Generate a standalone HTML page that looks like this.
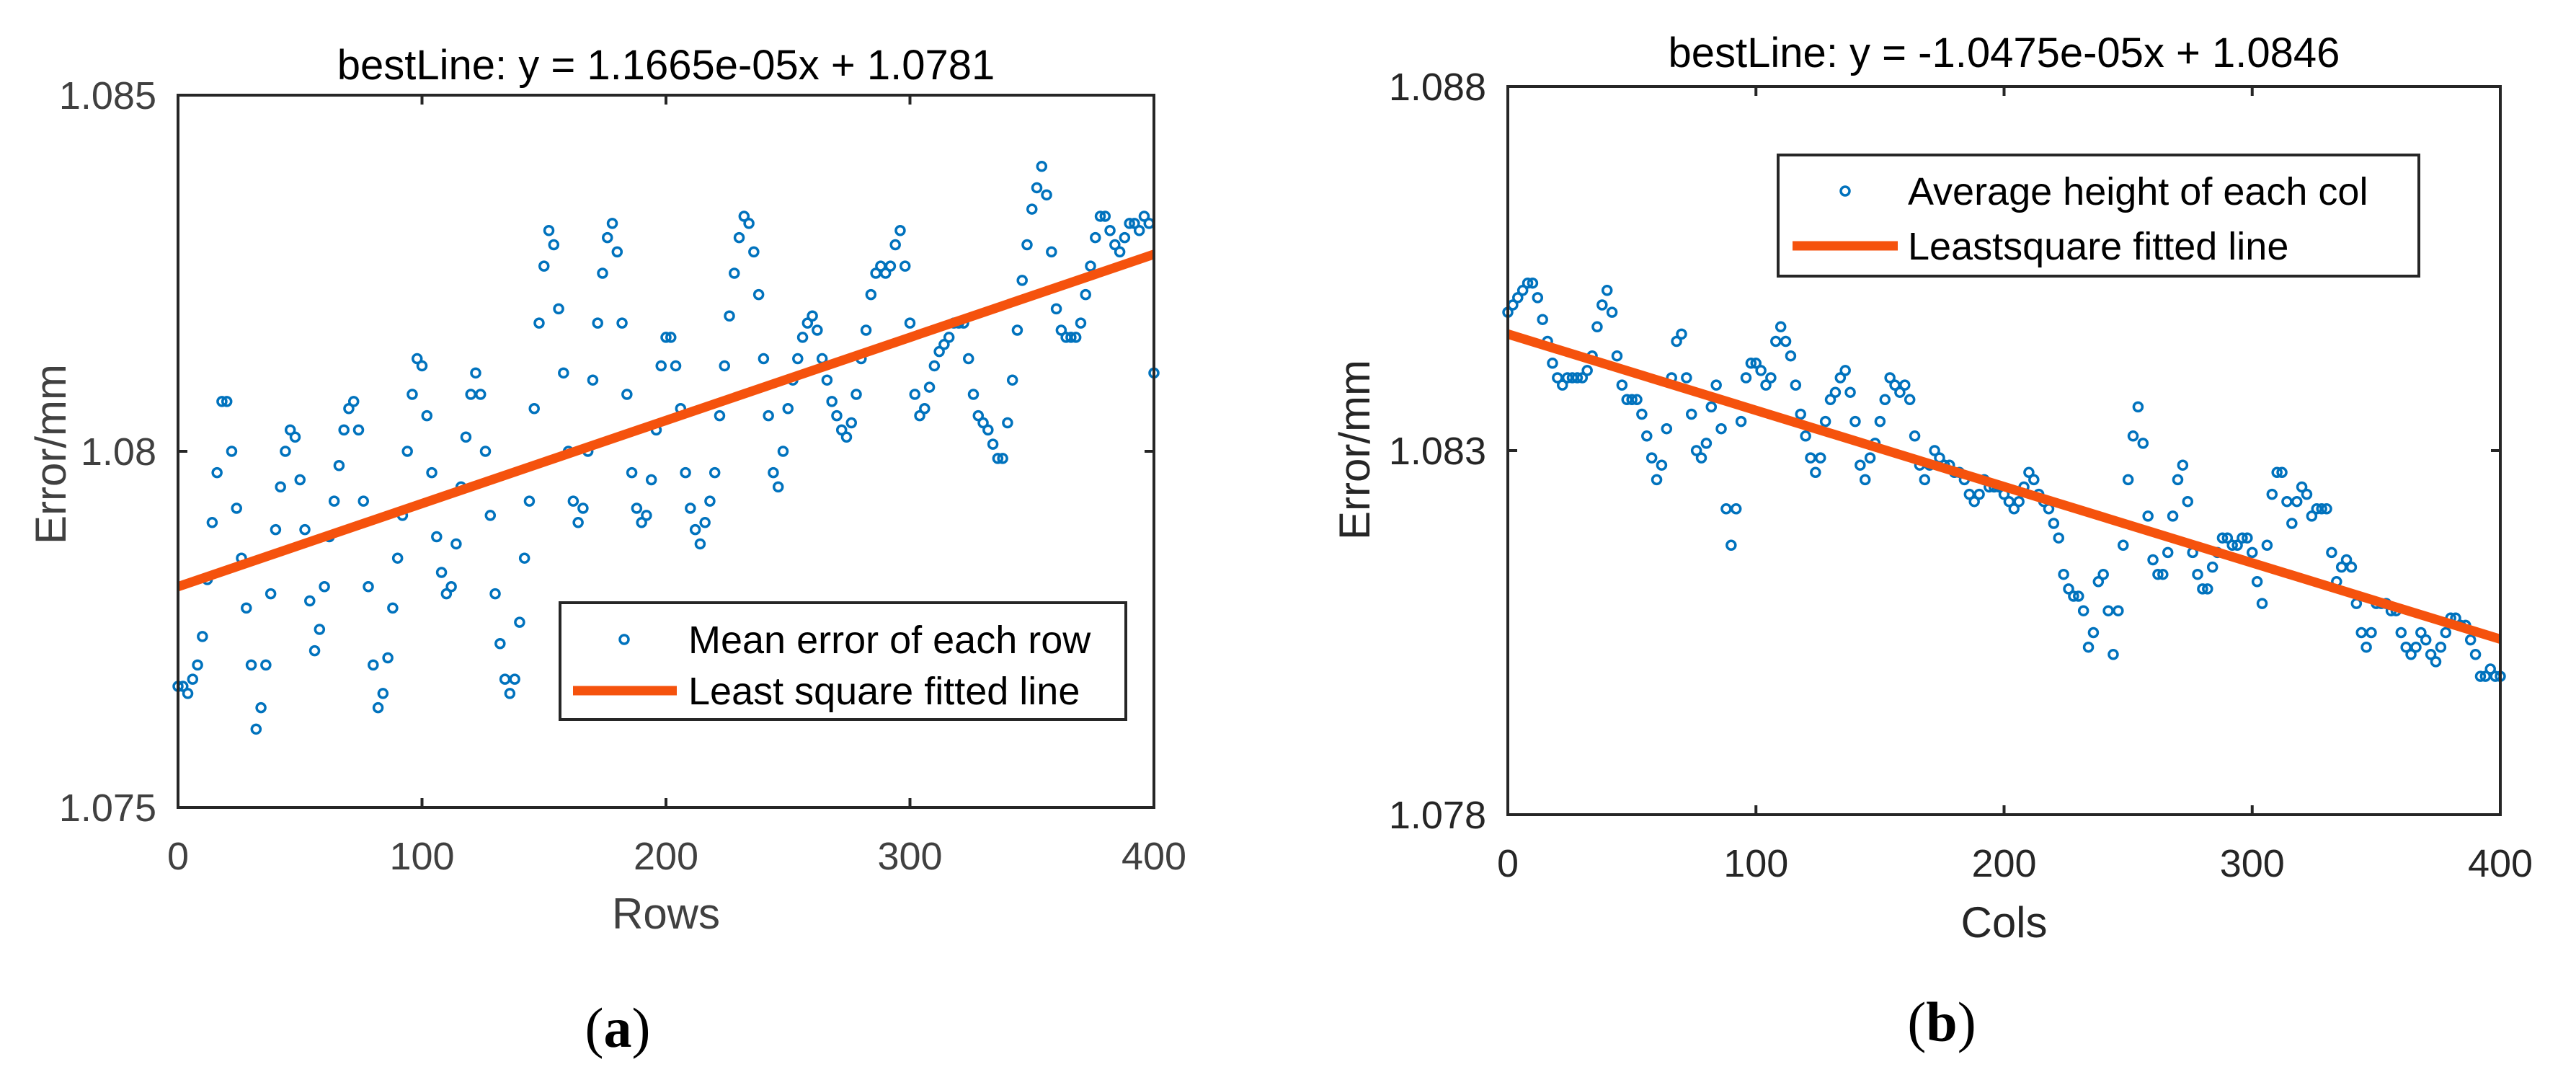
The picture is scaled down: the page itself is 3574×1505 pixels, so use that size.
<!DOCTYPE html>
<html><head><meta charset="utf-8"><style>
html,body{margin:0;padding:0;background:#fff;}
svg{display:block;}
text{font-family:"Liberation Sans",Arial,sans-serif;}
text.cap{font-family:"Liberation Serif",serif;}
</style></head><body>
<svg id="fig" width="3574" height="1505" viewBox="0 0 3574 1505" xmlns="http://www.w3.org/2000/svg">
<rect width="3574" height="1505" fill="#fff"/>
<g id="pa"></g>
<g id="pb"></g>
</svg>
<script>
const rowValues=[1.0767,1.0767,1.0766,1.0768,1.0770,1.0774,1.0782,1.0790,1.0797,1.0807,1.0807,1.0800,1.0792,1.0785,1.0778,1.0770,1.0761,1.0764,1.0770,1.0780,1.0789,1.0795,1.0800,1.0803,1.0802,1.0796,1.0789,1.0779,1.0772,1.0775,1.0781,1.0788,1.0793,1.0798,1.0803,1.0806,1.0807,1.0803,1.0793,1.0781,1.0770,1.0764,1.0766,1.0771,1.0778,1.0785,1.0791,1.0800,1.0808,1.0813,1.0812,1.0805,1.0797,1.0788,1.0783,1.0780,1.0781,1.0787,1.0795,1.0802,1.0808,1.0811,1.0808,1.0800,1.0791,1.0780,1.0773,1.0768,1.0766,1.0768,1.0776,1.0785,1.0793,1.0806,1.0818,1.0826,1.0831,1.0829,1.0820,1.0811,1.0800,1.0793,1.0790,1.0792,1.0800,1.0810,1.0818,1.0825,1.0830,1.0832,1.0828,1.0818,1.0808,1.0797,1.0792,1.0790,1.0791,1.0796,1.0803,1.0812,1.0816,1.0816,1.0812,1.0806,1.0797,1.0792,1.0789,1.0787,1.0790,1.0793,1.0797,1.0805,1.0812,1.0819,1.0825,1.0830,1.0833,1.0832,1.0828,1.0822,1.0813,1.0805,1.0797,1.0795,1.0800,1.0806,1.0810,1.0813,1.0816,1.0818,1.0819,1.0817,1.0813,1.0810,1.0807,1.0805,1.0803,1.0802,1.0804,1.0808,1.0813,1.0817,1.0822,1.0825,1.0826,1.0825,1.0826,1.0829,1.0831,1.0826,1.0818,1.0808,1.0805,1.0806,1.0809,1.0812,1.0814,1.0815,1.0816,1.0818,1.0818,1.0818,1.0813,1.0808,1.0805,1.0804,1.0803,1.0801,1.0799,1.0799,1.0804,1.0810,1.0817,1.0824,1.0829,1.0834,1.0837,1.0840,1.0836,1.0828,1.0820,1.0817,1.0816,1.0816,1.0816,1.0818,1.0822,1.0826,1.0830,1.0833,1.0833,1.0831,1.0829,1.0828,1.0830,1.0832,1.0832,1.0831,1.0833,1.0832,1.0811];
const colValues=[1.0849,1.0850,1.0851,1.0852,1.0853,1.0853,1.0851,1.0848,1.0845,1.0842,1.0840,1.0839,1.0840,1.0840,1.0840,1.0840,1.0841,1.0843,1.0847,1.0850,1.0852,1.0849,1.0843,1.0839,1.0837,1.0837,1.0837,1.0835,1.0832,1.0829,1.0826,1.0828,1.0833,1.0840,1.0845,1.0846,1.0840,1.0835,1.0830,1.0829,1.0831,1.0836,1.0839,1.0833,1.0822,1.0817,1.0822,1.0834,1.0840,1.0842,1.0842,1.0841,1.0839,1.0840,1.0845,1.0847,1.0845,1.0843,1.0839,1.0835,1.0832,1.0829,1.0827,1.0829,1.0834,1.0837,1.0838,1.0840,1.0841,1.0838,1.0834,1.0828,1.0826,1.0829,1.0831,1.0834,1.0837,1.0840,1.0839,1.0838,1.0839,1.0837,1.0832,1.0828,1.0826,1.0828,1.0830,1.0829,1.0828,1.0828,1.0827,1.0827,1.0826,1.0824,1.0823,1.0824,1.0826,1.0825,1.0825,1.0825,1.0824,1.0823,1.0822,1.0823,1.0825,1.0827,1.0826,1.0824,1.0823,1.0822,1.0820,1.0818,1.0813,1.0811,1.0810,1.0810,1.0808,1.0803,1.0805,1.0812,1.0813,1.0808,1.0802,1.0808,1.0817,1.0826,1.0832,1.0836,1.0831,1.0821,1.0815,1.0813,1.0813,1.0816,1.0821,1.0826,1.0828,1.0823,1.0816,1.0813,1.0811,1.0811,1.0814,1.0816,1.0818,1.0818,1.0817,1.0817,1.0818,1.0818,1.0816,1.0812,1.0809,1.0817,1.0824,1.0827,1.0827,1.0823,1.0820,1.0823,1.0825,1.0824,1.0821,1.0822,1.0822,1.0822,1.0816,1.0812,1.0814,1.0815,1.0814,1.0809,1.0805,1.0803,1.0805,1.0809,1.0809,1.0809,1.0808,1.0808,1.0805,1.0803,1.0802,1.0803,1.0805,1.0804,1.0802,1.0801,1.0803,1.0805,1.0807,1.0807,1.0806,1.0806,1.0804,1.0802,1.0799,1.0799,1.0800,1.0799,1.0799];
const xStep=2;
const xTicks=[0,100,200,300,400];
const yTicksA=[1.075,1.08,1.085];
const yTickLabelsA=["1.075","1.08","1.085"];
const yTicksB=[1.078,1.083,1.088];
const yTickLabelsB=["1.078","1.083","1.088"];
const fitA=[1.1665e-05,1.0781];
const fitB=[-1.0475e-05,1.0846];

const NS="http://www.w3.org/2000/svg";
function mk(parent,tag,attrs){const e=document.createElementNS(NS,tag);for(const k in attrs)e.setAttribute(k,attrs[k]);parent.appendChild(e);return e;}

function panel(g,cfg){
  const L=cfg.L,R=cfg.R,T=cfg.T,B=cfg.B;
  const sx=v=>L+(v-0)/(400-0)*(R-L);
  const sy=v=>B-(v-cfg.ymin)/(cfg.ymax-cfg.ymin)*(B-T);
  const t=mk(g,'text',{x:(L+R)/2,y:cfg.titleY,'font-size':58,'text-anchor':'middle',fill:'#000'});
  t.textContent=cfg.title;
  
  
  const pts=mk(g,'g',{});
  
  
  cfg.values.forEach((v,i)=>{
    const c=mk(pts,'circle',{cx:sx(i*xStep),cy:sy(v),r:6,fill:'none',stroke:'#0072BD','stroke-width':3.5});
    
    
  });
  const fl=mk(g,'line',{x1:sx(0),y1:sy(cfg.fit[1]),x2:sx(400),y2:sy(cfg.fit[0]*400+cfg.fit[1]),stroke:'#F5520D','stroke-width':13});
  
  
  const bx=mk(g,'rect',{x:L,y:T,width:R-L,height:B-T,fill:'none',stroke:'#262626','stroke-width':4});
  
  
  xTicks.forEach(v=>{
    const x=sx(v);
    mk(g,'line',{x1:x,y1:B,x2:x,y2:B-13,stroke:'#262626','stroke-width':4});
    mk(g,'line',{x1:x,y1:T,x2:x,y2:T+13,stroke:'#262626','stroke-width':4});
    const tl=mk(g,'text',{x:x,y:cfg.xTickY,'font-size':54,'text-anchor':'middle',fill:cfg.tickColor});
    tl.textContent=String(v);
    
    
  });
  cfg.yTicks.forEach((v,i)=>{
    const y=sy(v);
    mk(g,'line',{x1:L,y1:y,x2:L+13,y2:y,stroke:'#262626','stroke-width':4});
    mk(g,'line',{x1:R,y1:y,x2:R-13,y2:y,stroke:'#262626','stroke-width':4});
    const tl=mk(g,'text',{x:cfg.yTickX,y:y+19,'font-size':54,'text-anchor':'end',fill:cfg.tickColor});
    tl.textContent=cfg.yTickLabels[i];
    
    
  });
  const xl=mk(g,'text',{x:(L+R)/2,y:cfg.xLabelY,'font-size':60,'text-anchor':'middle',fill:cfg.tickColor});
  xl.textContent=cfg.xLabel;
  
  
  const yl=mk(g,'text',{x:0,y:0,'font-size':60,'text-anchor':'middle',fill:cfg.tickColor,transform:`translate(${cfg.yLabelX},${cfg.yLabelY}) rotate(-90)`});
  yl.textContent='Error/mm';
  
  
  const lg=mk(g,'g',{});
  
  
  const lb=cfg.leg;
  mk(lg,'rect',{x:lb.x,y:lb.y,width:lb.w,height:lb.h,fill:'#fff',stroke:'#262626','stroke-width':4});
  mk(lg,'circle',{cx:lb.mx,cy:lb.r1,r:6,fill:'none',stroke:'#0072BD','stroke-width':3.5});
  mk(lg,'line',{x1:lb.lx1,y1:lb.r2,x2:lb.lx2,y2:lb.r2,stroke:'#F5520D','stroke-width':13});
  const e1=mk(lg,'text',{x:lb.tx,y:lb.r1+19,'font-size':54,fill:'#000'});
  e1.textContent=lb.t1;
  
  
  const e2=mk(lg,'text',{x:lb.tx,y:lb.r2+19,'font-size':54,fill:'#000'});
  e2.textContent=lb.t2;
  
  
  const cap=mk(g,'text',{x:cfg.capX,y:cfg.capY,'font-size':78,'text-anchor':'middle',fill:'#000','class':'cap'});
  cap.innerHTML='(<tspan font-weight="bold">'+cfg.cap+'</tspan>)';
  
  
}

panel(document.getElementById('pa'),{L:247,R:1601,T:132,B:1120,ymin:1.075,ymax:1.085,values:rowValues,fit:fitA,
  title:'bestLine: y = 1.1665e-05x + 1.0781',titleY:110,xTickY:1206,xLabelY:1288,xLabel:'Rows',yTicks:yTicksA,yTickLabels:yTickLabelsA,
  yTickX:217,yLabelX:91,yLabelY:630,tickColor:'#404040',capX:857,capY:1452,cap:'a',
  leg:{x:777,y:836,w:785,h:162,mx:866,lx1:795,lx2:939,tx:955,r1:887,r2:958,t1:'Mean error of each row',t2:'Least square fitted line'}});
panel(document.getElementById('pb'),{L:2092,R:3469,T:120,B:1130,ymin:1.078,ymax:1.088,values:colValues,fit:fitB,
  title:'bestLine: y = -1.0475e-05x + 1.0846',titleY:93,xTickY:1216,xLabelY:1300,xLabel:'Cols',yTicks:yTicksB,yTickLabels:yTickLabelsB,
  yTickX:2062,yLabelX:1900,yLabelY:624,tickColor:'#262626',capX:2694,capY:1444,cap:'b',
  leg:{x:2467,y:215,w:889,h:168,mx:2560,lx1:2487,lx2:2633,tx:2647,r1:265,r2:341,t1:'Average height of each col',t2:'Leastsquare fitted line'}});
</script>
</body></html>
